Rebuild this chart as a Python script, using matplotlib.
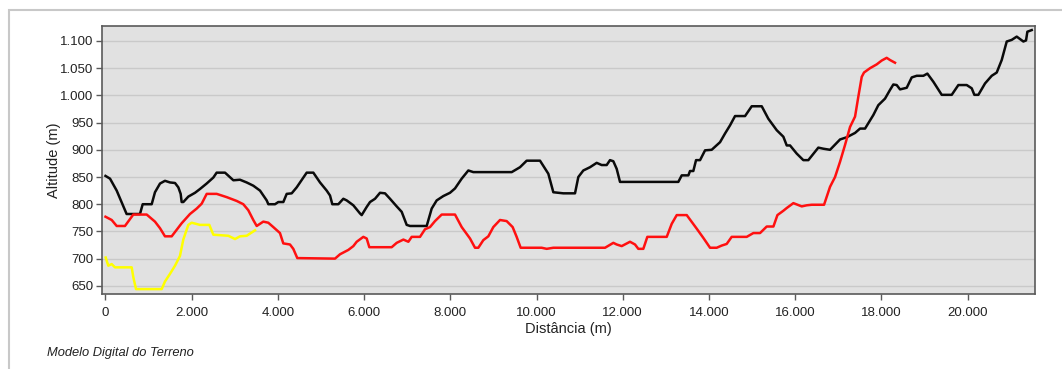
import matplotlib
matplotlib.use("Agg")
import matplotlib.pyplot as plt
from matplotlib.ticker import FuncFormatter, FixedLocator
from matplotlib.patches import Rectangle

plt.rcParams['font.family'] = ['Liberation Sans', 'DejaVu Sans']

# Perfil 1 (preto)
black_x = [0, 105, 260, 490, 800, 863, 1072, 1148, 1265, 1380, 1497, 1613, 1690, 1744, 1767, 1806,
           1922, 2077, 2193, 2347, 2502, 2579, 2773, 2966, 3120, 3275, 3430, 3585, 3740, 3778, 3933,
           4010, 4126, 4204, 4320, 4436, 4668, 4822, 4977, 5132, 5209, 5262, 5402, 5518, 5596, 5750,
           5905, 5944, 6060, 6137, 6253, 6369, 6485, 6601, 6756, 6872, 6988, 7065, 7452, 7568, 7684,
           7838, 7993, 8109, 8264, 8418, 8534, 9425, 9617, 9772, 10081, 10274, 10390, 10622, 10893,
           10970, 11086, 11241, 11396, 11512, 11628, 11705, 11782, 11860, 11937, 13290, 13369, 13523,
           13561, 13638, 13701, 13794, 13910, 14064, 14258, 14374, 14490, 14606, 14838, 14993, 15225,
           15379, 15573, 15727, 15805, 15882, 16037, 16190, 16306, 16538, 16654, 16810, 17042, 17196,
           17390, 17506, 17622, 17815, 17930, 18085, 18201, 18278, 18356, 18434, 18589, 18705, 18821,
           18975, 19068, 19207, 19401, 19633, 19787, 19981, 20097, 20158, 20251, 20406, 20561, 20677,
           20793, 20909, 21025, 21141, 21295, 21357, 21388, 21489]
black_y = [852, 847, 825, 782, 782, 800, 800, 822, 838, 843, 840, 839, 831, 819, 804, 804,
           814, 821, 828, 838, 849, 858, 858, 844, 845, 840, 834, 825, 807, 800, 800,
           804, 804, 819, 820, 831, 858, 858, 840, 825, 816, 800, 800, 810, 807, 798,
           783, 780, 795, 804, 810, 821, 820, 810, 796, 786, 762, 760, 760, 792, 807,
           815, 821, 829, 847, 862, 859, 859, 868, 880, 880, 856, 822, 820, 820,
           850, 862, 868, 876, 872, 872, 881, 879, 865, 841, 841, 853, 853,
           861, 861, 881, 881, 899, 900, 914, 930, 945, 962, 962, 980, 980,
           957, 936, 924, 908, 908, 893, 881, 881, 904, 902, 900, 919, 923,
           931, 939, 939, 964, 982, 994, 1010, 1020, 1019, 1011, 1014, 1033, 1036,
           1036, 1040, 1025, 1001, 1001, 1019, 1019, 1013, 1001, 1001, 1022, 1036, 1042,
           1065, 1099, 1102, 1108, 1099, 1101, 1117, 1120]

# Perfil 2 (vermelho)
red_x = [0, 144, 260, 452, 608, 645, 956, 1148, 1264, 1380, 1536, 1767, 1960, 2116, 2232, 2348,
         2580, 2812, 3044, 3197, 3313, 3429, 3508, 3661, 3777, 3893, 4048, 4125, 4280, 4357, 4450,
         5325, 5441, 5634, 5750, 5828, 5982, 6060, 6121, 6640, 6756, 6911, 7027, 7104, 7297, 7413,
         7529, 7645, 7800, 8109, 8264, 8457, 8573, 8650, 8766, 8882, 8998, 9153, 9307, 9446, 9539,
         9632, 10119, 10236, 10390, 11590, 11782, 11860, 11976, 12169, 12285, 12362, 12478, 12571,
         13021, 13137, 13253, 13485, 13717, 13871, 14026, 14181, 14296, 14412, 14528, 14877, 15031,
         15186, 15341, 15496, 15589, 15727, 15805, 15959, 16153, 16269, 16385, 16462, 16671, 16810,
         16926, 17042, 17158, 17274, 17390, 17467, 17545, 17598, 17738, 17893, 18008, 18124, 18201,
         18317]
red_y = [777, 771, 760, 760, 777, 781, 781, 768, 756, 741, 741, 765, 782, 792, 801, 819,
         819, 813, 806, 800, 789, 771, 760, 768, 766, 758, 747, 728, 726, 718, 701,
         700, 708, 716, 723, 731, 740, 737, 721, 721, 729, 735, 731, 740, 740, 754,
         758, 769, 781, 781, 758, 737, 720, 720, 734, 741, 758, 771, 769, 758, 740,
         720, 720, 718, 720, 720, 729, 726, 723, 731, 726, 718, 718, 740,
         740, 764, 780, 780, 755, 738, 720, 720, 724, 727, 740, 740, 747,
         747, 759, 759, 780, 788, 793, 802, 796, 798, 799, 799, 799, 832,
         850, 878, 909, 942, 961, 998, 1034, 1042, 1050, 1057, 1064, 1069, 1065,
         1060]

# Perfil 3 (amarelo)
yellow_x = [5, 65, 144, 220, 608, 645, 708, 1304, 1380, 1496, 1613, 1728, 1805, 1921, 2000,
            2193, 2409, 2502, 2850, 3005, 3121, 3275, 3469]
yellow_y = [702, 687, 690, 684, 684, 666, 644, 644, 658, 672, 687, 705, 735, 762, 766,
            762, 762, 744, 742, 736, 741, 742, 752]

x_ticks = [0, 2000, 4000, 6000, 8000, 10000, 12000, 14000, 16000, 18000, 20000]
y_ticks = [650, 700, 750, 800, 850, 900, 950, 1000, 1050, 1100]

fig = plt.figure(figsize=(10.62, 3.69), dpi=100)
# outer light frame
fig.patches.append(Rectangle((9 / 1062, -0.1), 1.2, 1 - 10 / 369 + 0.1, transform=fig.transFigure,
                             fill=False, edgecolor='#c8c8c8', linewidth=1.5, zorder=0))

ax = fig.add_axes([102 / 1062, 1 - 294 / 369, (1035 - 102) / 1062, (294 - 26) / 369])
ax.set_facecolor('#e1e1e1')
ax.set_xlim(-81, 21565)
ax.set_ylim(635, 1127.5)

ax.yaxis.set_major_locator(FixedLocator(y_ticks))
ax.xaxis.set_major_locator(FixedLocator(x_ticks))
fmt = FuncFormatter(lambda v, p: f"{int(round(v)):,}".replace(",", "."))
ax.xaxis.set_major_formatter(fmt)
ax.yaxis.set_major_formatter(fmt)

ax.grid(axis='y', color='#c9c9c9', linewidth=1.0)
ax.set_axisbelow(True)

ax.plot(black_x, black_y, color='#0a0a0a', linewidth=1.8, solid_joinstyle='round')
ax.plot(red_x, red_y, color='#ff1010', linewidth=1.8, solid_joinstyle='round')
ax.plot(yellow_x, yellow_y, color='#ffff00', linewidth=1.8, solid_joinstyle='round')

for s in ax.spines.values():
    s.set_color('#5a5a5a')
    s.set_linewidth(1.2)

ax.tick_params(axis='both', direction='out', length=4, width=1, color='#5a5a5a',
               labelsize=9.5, labelcolor='#222222', pad=2)
ax.tick_params(axis='x', pad=5)

ax.set_xlabel('Distância (m)', fontsize=10.5, color='#222222', labelpad=2.5)
ax.set_ylabel('Altitude (m)', fontsize=10.5, color='#222222', labelpad=-0.5)

fig.text(47 / 1062, 1 - 353 / 369, 'Modelo Digital do Terreno', fontsize=9.3, style='italic',
         color='#222222', va='center', ha='left')

fig.savefig('out.png', dpi=100)
